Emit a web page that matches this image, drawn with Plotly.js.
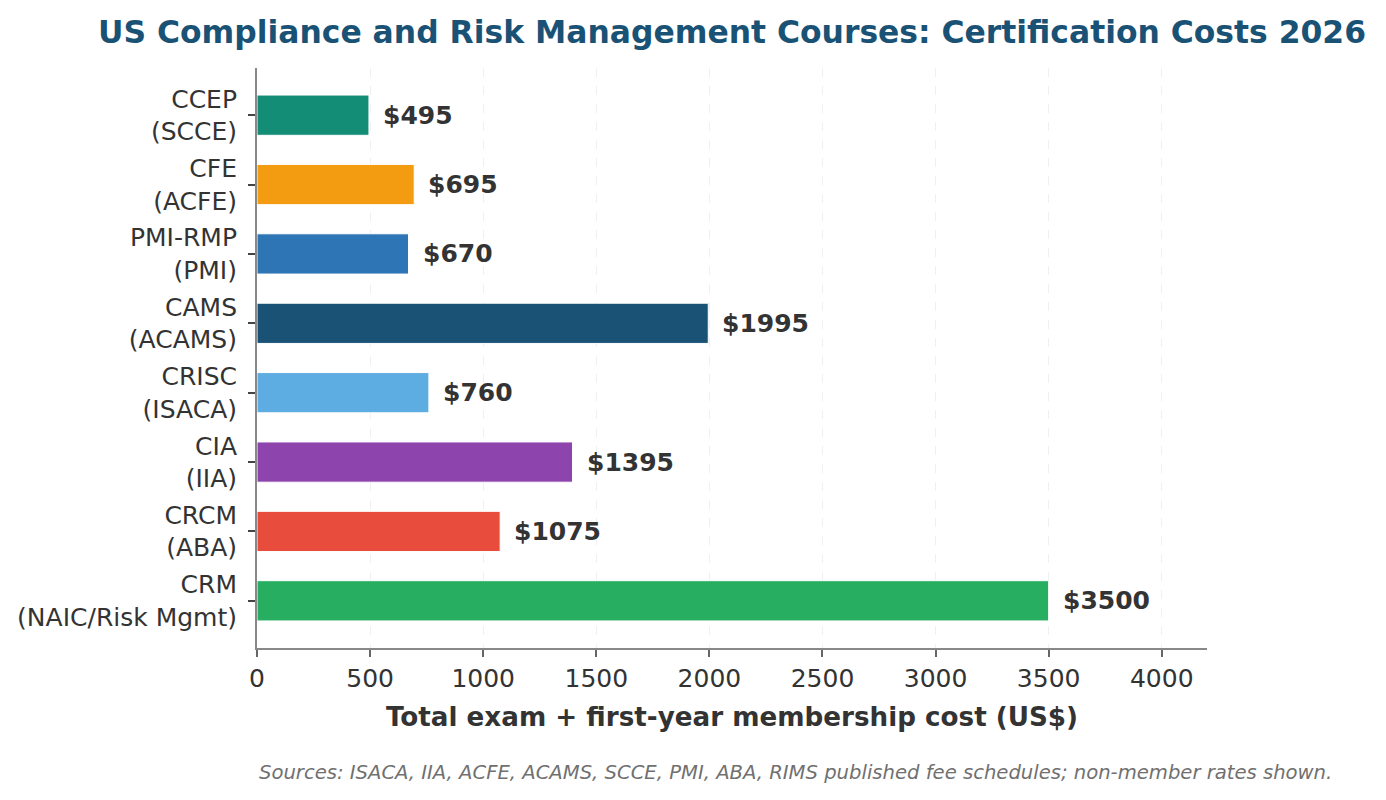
<!DOCTYPE html>
<html>
<head>
<meta charset="utf-8">
<script src="https://cdn.plot.ly/plotly-3.0.1.min.js"></script>
<style>html,body{margin:0;padding:0;background:#fff;}#chart{width:1386px;height:800px;}</style>
</head>
<body>
<div id="chart"></div>
<script>
const categories = ["CCEP<br>(SCCE)", "CFE<br>(ACFE)", "PMI-RMP<br>(PMI)", "CAMS<br>(ACAMS)", "CRISC<br>(ISACA)", "CIA<br>(IIA)", "CRCM<br>(ABA)", "CRM<br>(NAIC/Risk Mgmt)"];
const costs = [495, 695, 670, 1995, 760, 1395, 1075, 3500];
const barColors = ["#138D75", "#F39C12", "#2E75B6", "#1A5276", "#5DADE2", "#8E44AD", "#E74C3C", "#27AE60"];
const xTicks = [0, 500, 1000, 1500, 2000, 2500, 3000, 3500, 4000];
const titleText = "US Compliance and Risk Management Courses: Certification Costs 2026";
const xTitle = "Total exam + first-year membership cost (US$)";
const sourceText = "Sources: ISACA, IIA, ACFE, ACAMS, SCCE, PMI, ABA, RIMS published fee schedules; non-member rates shown.";

const FONT = "DejaVu Sans, Verdana, sans-serif";

const trace = {
  type: "bar",
  orientation: "h",
  x: costs,
  y: categories,
  width: 0.58,
  marker: {color: barColors, line: {color: "#ffffff", width: 1}},
  hoverinfo: "x+y"
};

const annotations = costs.map((v, i) => ({
  x: v, y: categories[i], xref: "x", yref: "y",
  text: "$" + v, showarrow: false, xanchor: "left", yanchor: "middle",
  xshift: 12, font: {family: FONT, size: 25, color: "#333333", weight: "bold"}
}));
annotations.push({
  x: 0, y: -0.214, xref: "paper", yref: "paper", xanchor: "left", yanchor: "middle",
  text: "<i>" + sourceText + "</i>", showarrow: false,
  font: {family: FONT, size: 19.6, color: "#707070"}
});

const layout = {
  width: 1386, height: 800,
  margin: {l: 257, r: 179, t: 68, b: 152, pad: 0},
  paper_bgcolor: "#ffffff", plot_bgcolor: "#ffffff",
  font: {family: FONT, color: "#333333"},
  showlegend: false,
  title: {
    text: "<b>" + titleText + "</b>",
    font: {family: FONT, size: 31.4, color: "#1A5276"},
    x: 0.5, xref: "paper", xanchor: "center",
    y: 1 - 32/800, yref: "container", yanchor: "middle"
  },
  xaxis: {
    range: [0, 4200], tickvals: xTicks, ticktext: xTicks.map(String),
    showline: true, linecolor: "#888888", linewidth: 2,
    ticks: "outside", ticklen: 7, tickwidth: 1.5, tickcolor: "#666666",
    tickfont: {family: FONT, size: 25, color: "#333333"},
    showgrid: true, gridcolor: "rgba(0,0,0,0.06)", griddash: "dash", gridwidth: 1.2,
    zeroline: false, mirror: false,
    title: {text: "<b>" + xTitle + "</b>", font: {family: FONT, size: 26.2, color: "#333333"}, standoff: 16}
  },
  yaxis: {
    type: "category", categoryorder: "array", categoryarray: categories,
    range: [7.68, -0.68],
    showline: true, linecolor: "#888888", linewidth: 2,
    ticks: "outside", ticklen: 7, tickwidth: 1.5, tickcolor: "#444444",
    ticklabelstandoff: 6,
    tickfont: {family: FONT, size: 25, color: "#333333"},
    showgrid: false, zeroline: false
  },
  annotations: annotations
};

Plotly.newPlot("chart", [trace], layout, {displayModeBar: false, responsive: false});
</script>
</body>
</html>
